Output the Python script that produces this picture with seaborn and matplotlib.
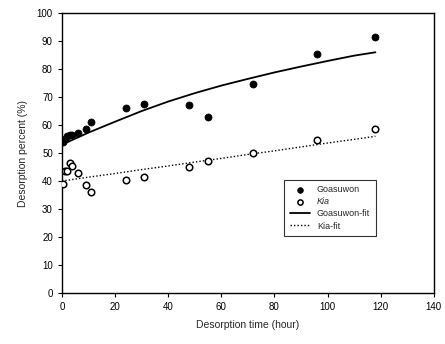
import seaborn as sns
import matplotlib.pyplot as plt
import numpy as np
import pandas as pd

time_h = [0.5, 1, 2, 3, 4, 6, 9, 11, 24, 31, 48, 55, 72, 96, 118]
goasuwon = [54, 55, 56, 56.5, 56.5, 57, 58.5, 61, 66, 67.5, 67, 63, 74.5, 85.5, 91.5]
kia = [39, 43.5, 43.5, 46.5, 45.5, 43, 38.5, 36, 40.5, 41.5, 45, 47, 50, 54.5, 58.5]

# fit curves
fit_time = [0, 10, 20, 30, 40, 50, 60, 70, 80, 90, 100, 110, 118]
goasuwon_fit = [53, 57.3, 61.2, 65, 68.4, 71.4, 74.1, 76.5, 78.8, 80.9, 82.9, 84.8, 86]
kia_fit = [40, 41.4, 42.7, 44.1, 45.4, 46.8, 48.1, 49.5, 50.8, 52.2, 53.6, 54.9, 56]

pts = pd.DataFrame({"t": time_h, "Goasuwon": goasuwon, "Kia": kia})
fits = pd.DataFrame({"t": fit_time, "Goasuwon-fit": goasuwon_fit, "Kia-fit": kia_fit})

sns.set_style("ticks")
plt.rcParams['font.family'] = ['Liberation Sans', 'DejaVu Sans']

fig = plt.figure(figsize=(4.45, 3.44), dpi=100)
ax = fig.add_axes([0.139, 0.148, 0.836, 0.814])

sns.scatterplot(data=pts, x="t", y="Goasuwon", ax=ax, color="black", marker="o",
                s=26, edgecolor="black", linewidth=0.5, label="Goasuwon", zorder=3)
sns.scatterplot(data=pts, x="t", y="Kia", ax=ax, facecolor="white", marker="o",
                s=22, edgecolor="black", linewidth=1.1, label="Kia", zorder=3)
sns.lineplot(data=fits, x="t", y="Goasuwon-fit", ax=ax, color="black",
             linewidth=1.3, label="Goasuwon-fit")
sns.lineplot(data=fits, x="t", y="Kia-fit", ax=ax, color="black",
             linewidth=1.0, linestyle=(0, (1, 1.5)), label="Kia-fit")

ax.set_xlim(0, 140)
ax.set_ylim(0, 100)
ax.set_xticks(range(0, 141, 20))
ax.set_yticks(range(0, 101, 10))
ax.tick_params(labelsize=7, length=3, width=0.8, colors="black")
ax.set_xlabel("Desorption time (hour)", fontsize=7.5, labelpad=6)
ax.set_ylabel("Desorption percent (%)", fontsize=7.5, labelpad=6)
for sp in ax.spines.values():
    sp.set_linewidth(1.0)
    sp.set_color("black")

leg = ax.legend(loc="upper left", bbox_to_anchor=(0.586, 0.421), fontsize=6.5,
                frameon=True, fancybox=False, edgecolor="black", handlelength=2.2,
                borderpad=0.6, labelspacing=0.35, markerscale=0.8)
leg.get_frame().set_linewidth(0.8)
leg.get_texts()[1].set_fontstyle("italic")

fig.savefig("out.png", dpi=100)
